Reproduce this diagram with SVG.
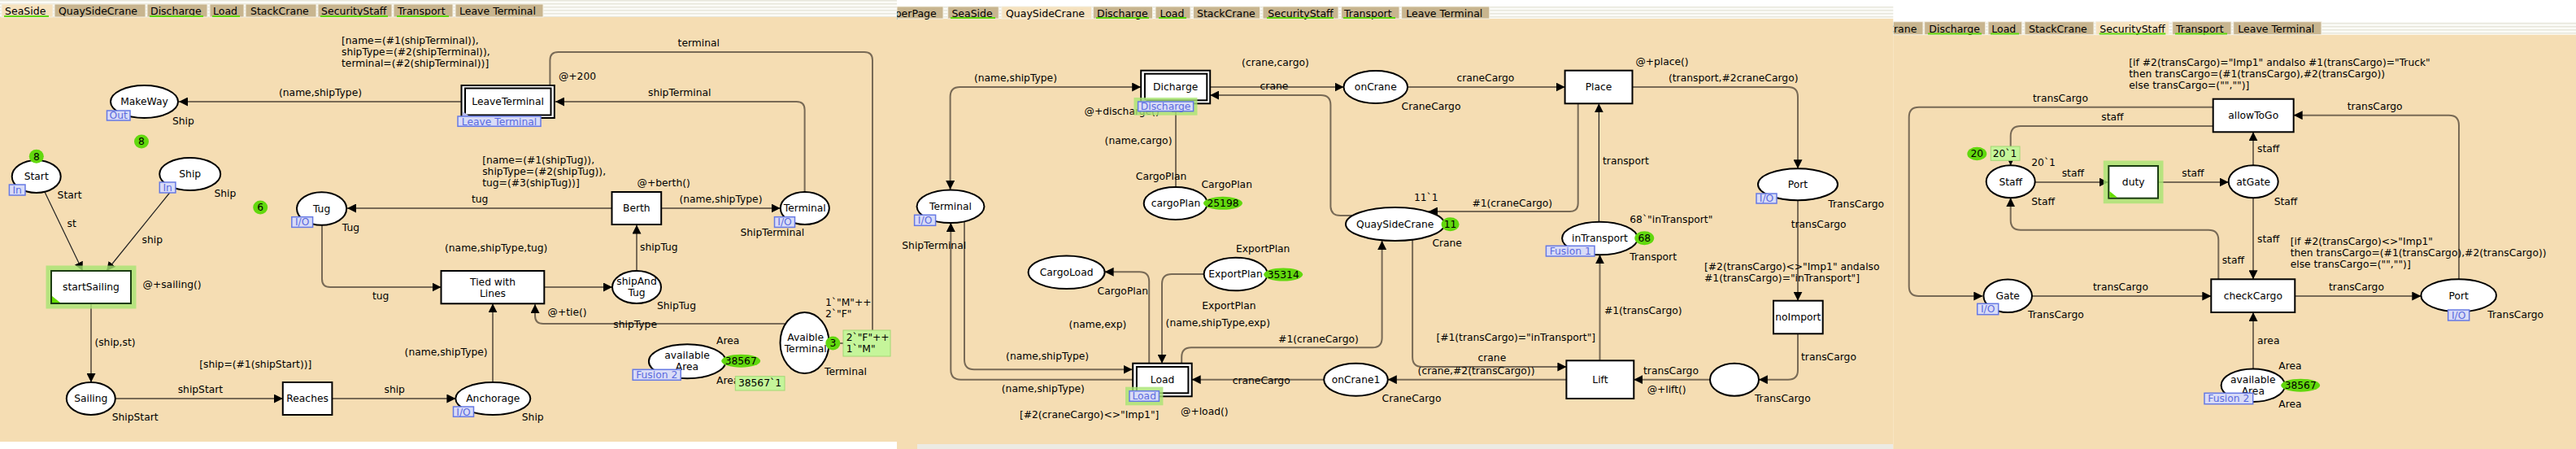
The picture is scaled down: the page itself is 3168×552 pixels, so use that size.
<svg xmlns="http://www.w3.org/2000/svg" width="3168" height="552" viewBox="0 0 3168 552">
<defs>
<style>
text{font-family:"DejaVu Sans",Verdana,sans-serif;font-size:12.3px;fill:#000}
.c{text-anchor:middle}
.tb{font-size:12.5px}
.cv{fill:#f5ddb3}
.tab{fill:#c8b58f;stroke:#f4f1e6;stroke-width:1}
.tabA{fill:#f6e2bf;stroke:#f4f1e6;stroke-width:1}
.ul{stroke:#5ed60a;stroke-width:2}
.pl{fill:#fff;stroke:#000;stroke-width:2}
.tr{fill:#fff;stroke:#000;stroke-width:2}
.arc{fill:none;stroke:#786a56;stroke-width:2}
.thin{fill:none;stroke:#222;stroke-width:1.2}
.ah{marker-end:url(#ah)}
.bi{marker-start:url(#as);marker-end:url(#ah)}
.tag{fill:#d9dcf7;stroke:#6679e4;stroke-width:1.5}
.tagt{fill:#5b6be0;text-anchor:middle}
.tok{fill:#62d80e}
.mk{fill:#c5f59a;stroke:#a2d874;stroke-width:1}
.glow{fill:none;stroke:#a8e572;stroke-width:7;stroke-opacity:.8}
.sub{fill:#b9bbea}
.en{fill:#fff;stroke:#1b3d12;stroke-width:2}
</style>
<marker id="ah" viewBox="0 0 11 11" refX="11" refY="5.5" markerWidth="11" markerHeight="11" markerUnits="userSpaceOnUse" orient="auto"><path d="M0,0L11,5.5L0,11z" fill="#000"/></marker>
<marker id="as" viewBox="0 0 11 11" refX="11" refY="5.5" markerWidth="11" markerHeight="11" markerUnits="userSpaceOnUse" orient="auto-start-reverse"><path d="M0,0L11,5.5L0,11z" fill="#000"/></marker>
<pattern id="str" width="4" height="4" patternUnits="userSpaceOnUse"><rect width="4" height="4" fill="#fbfbf7"/><rect width="4" height="1.5" fill="#e8e7dc"/></pattern>
<clipPath id="cp2"><rect x="1103" y="0" width="1225" height="552"/></clipPath>
<clipPath id="cp3"><rect x="2328.3" y="0" width="840" height="552"/></clipPath>
</defs>
<rect width="3168" height="552" fill="#fff"/>
<g id="panels">
<rect x="0" y="0" width="1103" height="21" fill="url(#str)"/>
<rect class="cv" x="0" y="21" width="1103" height="522"/>
<rect x="1103" y="8" width="1225.3" height="15" fill="url(#str)"/>
<rect class="cv" x="1103" y="23" width="1225.3" height="523"/>
<rect x="1128" y="546" width="1200.3" height="6" fill="#ecebe3"/>
<rect class="cv" x="1103" y="546" width="25" height="6"/>
<rect x="2328.3" y="26.7" width="839.7" height="16" fill="url(#str)"/>
<rect class="cv" x="2328.3" y="42.7" width="839.7" height="509.3"/>
</g>
<g id="tabs">
<rect class="tabA" x="2" y="5" width="63" height="16"/><text class="tb" x="6" y="17.7">SeaSide</text><line class="ul" x1="5" y1="20" x2="60" y2="20"/>
<rect class="tab" x="67" y="5" width="112" height="16"/><text class="tb" x="72" y="17.7">QuaySideCrane</text>
<rect class="tab" x="181" y="5" width="74" height="16"/><text class="tb" x="185" y="17.7">Discharge</text><line class="ul" x1="184" y1="20" x2="250" y2="20"/>
<rect class="tab" x="258" y="5" width="42" height="16"/><text class="tb" x="262" y="17.7">Load</text><line class="ul" x1="261" y1="20" x2="295" y2="20"/>
<rect class="tab" x="302" y="5" width="87" height="16"/><text class="tb" x="308" y="17.7">StackCrane</text>
<rect class="tab" x="391" y="5" width="91" height="16"/><text class="tb" x="395" y="17.7">SecurityStaff</text><line class="ul" x1="394" y1="20" x2="477" y2="20"/>
<rect class="tab" x="484" y="5" width="73" height="16"/><text class="tb" x="489" y="17.7">Transport</text><line class="ul" x1="488" y1="20" x2="552" y2="20"/>
<rect class="tab" x="560" y="5" width="108" height="16"/><text class="tb" x="565" y="17.7">Leave Terminal</text>
<g clip-path="url(#cp2)"><rect class="tab" x="1103" y="8" width="57" height="15"/><text class="tb" x="1084.8" y="20.5">SuperPage</text></g>
<rect class="tab" x="1165.7" y="8" width="62.5" height="15"/><text class="tb" x="1170.4" y="20.5">SeaSide</text><line class="ul" x1="1169" y1="22" x2="1224" y2="22"/>
<rect class="tabA" x="1231.8" y="8" width="110.7" height="15"/><text class="tb" x="1237" y="20.5">QuaySideCrane</text>
<rect class="tab" x="1344.3" y="8" width="73.2" height="15"/><text class="tb" x="1349" y="20.5">Discharge</text><line class="ul" x1="1348" y1="22" x2="1413" y2="22"/>
<rect class="tab" x="1421" y="8" width="43" height="15"/><text class="tb" x="1426.4" y="20.5">Load</text><line class="ul" x1="1425" y1="22" x2="1459" y2="22"/>
<rect class="tab" x="1467.5" y="8" width="82.1" height="15"/><text class="tb" x="1472" y="20.5">StackCrane</text>
<rect class="tab" x="1553" y="8" width="93" height="15"/><text class="tb" x="1559.3" y="20.5">SecurityStaff</text><line class="ul" x1="1558" y1="22" x2="1640" y2="22"/>
<rect class="tab" x="1649.6" y="8" width="71.4" height="15"/><text class="tb" x="1653" y="20.5">Transport</text><line class="ul" x1="1652" y1="22" x2="1716" y2="22"/>
<rect class="tab" x="1723.6" y="8" width="108.2" height="15"/><text class="tb" x="1729.3" y="20.5">Leave Terminal</text>
<g clip-path="url(#cp3)"><rect class="tab" x="2328.3" y="26.7" width="36.7" height="16"/><text class="tb" x="2260.4" y="39.5">QuaySideCrane</text></g>
<rect class="tab" x="2366.7" y="26.7" width="75" height="16"/><text class="tb" x="2372.3" y="39.5">Discharge</text><line class="ul" x1="2371" y1="41.5" x2="2437" y2="41.5"/>
<rect class="tab" x="2445" y="26.7" width="41.7" height="16"/><text class="tb" x="2449.3" y="39.5">Load</text><line class="ul" x1="2448" y1="41.5" x2="2483" y2="41.5"/>
<rect class="tab" x="2490" y="26.7" width="85" height="16"/><text class="tb" x="2495" y="39.5">StackCrane</text>
<rect class="tabA" x="2577.3" y="26.7" width="90" height="16"/><text class="tb" x="2582.3" y="39.5">SecurityStaff</text><line class="ul" x1="2581.7" y1="41.5" x2="2663.3" y2="41.5"/>
<rect class="tab" x="2671.7" y="26.7" width="72.3" height="16"/><text class="tb" x="2676" y="39.5">Transport</text><line class="ul" x1="2675" y1="41.5" x2="2739" y2="41.5"/>
<rect class="tab" x="2746.7" y="26.7" width="108.3" height="16"/><text class="tb" x="2752.3" y="39.5">Leave Terminal</text>
</g>
<g id="connectors">
<path class="arc ah" d="M567.5,125H220"/>
<path class="arc ah" d="M676.4,105V74Q676.4,64 686.4,64H1063Q1073,64 1073,74V412Q1073,422 1063,422H1019.5"/>
<path class="arc ah" d="M989.6,236V135Q989.6,125 979.6,125H683"/>
<path class="arc ah" d="M813.2,256H959.6"/>
<path class="arc ah" d="M752.5,256H427"/>
<path class="arc ah" d="M783,333V276.5"/>
<path class="arc ah" d="M669.3,353H753"/>
<path class="arc ah" d="M396,276.5V343Q396,353 406,353H542.5"/>
<path class="arc ah" d="M606,470V373.3"/>
<path class="arc ah" d="M966,398H668Q658,398 658,388V374"/>
<path class="arc ah" d="M408.4,490H560.4"/>
<path class="arc ah" d="M141.8,490H347.8"/>
<path class="arc ah" d="M112,373V470"/>
<path class="thin ah" d="M55,236L101.6,333"/>
<path class="thin ah" d="M213.5,231L131,333"/>
<path class="arc bi" d="M1168.6,233V119Q1168.6,107 1180.6,107H1403.2"/>
<path class="arc ah" d="M1488.2,107H1652.5"/>
<path class="arc ah" d="M1664,265H1648.4Q1636.4,265 1636.4,253V129Q1636.4,117 1624.4,117H1488.2"/>
<path class="arc ah" d="M1731,107H1924.6"/>
<path class="arc ah" d="M2007.5,107H2199Q2211,107 2211,119V207.3"/>
<path class="arc ah" d="M2211,246V369.7"/>
<path class="arc ah" d="M2211,410.3V455Q2211,466.7 2199,466.7H2162.9"/>
<path class="arc ah" d="M2103.2,466.7H2009.3"/>
<path class="arc ah" d="M1926.4,466.7H1706.8"/>
<path class="arc ah" d="M1737.1,295V439Q1737.1,451 1749.1,451H1926.4"/>
<path class="arc ah" d="M1967.5,443.3V313.3"/>
<path class="thin ah" d="M1966.4,272.7V127.3"/>
<path class="arc ah" d="M1940.7,127.3V250Q1940.7,260 1930.7,260H1757"/>
<path class="arc ah" d="M1453.2,446.7V439Q1453.2,427.3 1465,427.3H1688Q1699.6,427.3 1699.6,415.5V296"/>
<path class="arc ah" d="M1628.2,466.7H1465.7"/>
<path class="arc ah" d="M1480.7,337H1441Q1429,337 1429,349V446.7"/>
<path class="arc ah" d="M1413.2,446.7V346Q1413.2,334.3 1401.5,334.3H1358.6"/>
<path class="arc ah" d="M1186,272V442Q1186,454.3 1198,454.3H1392.5"/>
<path class="arc ah" d="M1393.2,466.7H1181.5Q1169.3,466.7 1169.3,454.5V274"/>
<path class="arc ah" d="M1446,230V127.3"/>
<path class="arc ah" d="M2721.7,131.7H2360Q2347.7,131.7 2347.7,144V352Q2347.7,364 2359.7,364H2438.3"/>
<path class="arc ah" d="M2721.7,155H2485Q2472.7,155 2472.7,167.3V203.3"/>
<path class="arc ah" d="M2502.7,224H2592.7"/>
<path class="arc ah" d="M2654,224H2740.7"/>
<path class="arc ah" d="M2771,203.3V162.3"/>
<path class="arc ah" d="M2771,243.3V343.3"/>
<path class="arc ah" d="M2728.3,343.3V295Q2728.3,282.7 2716,282.7H2485Q2472.7,282.7 2472.7,270.4V243.3"/>
<path class="arc ah" d="M2499,364H2719.3"/>
<path class="arc ah" d="M2822.3,364H2977.3"/>
<path class="arc ah" d="M3024,343.3V154Q3024,141.7 3011.7,141.7H2820.7"/>
<path class="arc ah" d="M2771,453.3V384"/>
<path class="arc" d="M1033,422H1037"/>
</g>
<g id="inscriptions">
<text x="420" y="53.7">[name=(#1(shipTerminal)),</text>
<text x="420" y="67.7">shipType=(#2(shipTerminal)),</text>
<text x="420" y="81.7">terminal=(#2(shipTerminal))]</text>
<text x="343" y="117.7">(name,shipType)</text>
<text x="687" y="97.7">@+200</text>
<text x="833.6" y="57">terminal</text>
<text x="797" y="117.7">shipTerminal</text>
<text x="593.2" y="201">[name=(#1(shipTug)),</text>
<text x="593.2" y="215">shipType=(#2(shipTug)),</text>
<text x="593.2" y="228.7">tug=(#3(shipTug))]</text>
<text x="783.6" y="228.7">@+berth()</text>
<text x="580" y="248.7">tug</text>
<text x="835.4" y="248.7">(name,shipType)</text>
<text x="82.6" y="279.4">st</text>
<text x="174.6" y="298.7">ship</text>
<text x="175.6" y="354.4">@+sailing()</text>
<text x="116.4" y="425">(ship,st)</text>
<text x="245.2" y="452">[ship=(#1(shipStart))]</text>
<text x="218.7" y="482.7">shipStart</text>
<text x="472.5" y="482.7">ship</text>
<text x="458" y="368.4">tug</text>
<text x="497.6" y="437">(name,shipType)</text>
<text x="547" y="308.7">(name,shipType,tug)</text>
<text x="787" y="307.7">shipTug</text>
<text x="673.6" y="388.4">@+tie()</text>
<text x="754.3" y="402.7">shipType</text>
<text x="1527.1" y="81">(crane,cargo)</text>
<text x="1197.9" y="100">(name,shipType)</text>
<text x="1549.6" y="110">crane</text>
<text x="1333.6" y="141">@+discharge()</text>
<text x="1358.6" y="177">(name,cargo)</text>
<text x="1314.6" y="402.7">(name,exp)</text>
<text x="1433.6" y="401">(name,shipType,exp)</text>
<text x="1572.1" y="421">#1(craneCargo)</text>
<text x="1237.1" y="441.7">(name,shipType)</text>
<text x="1515.7" y="472">craneCargo</text>
<text x="1231.8" y="482">(name,shipType)</text>
<text x="1452.1" y="510">@+load()</text>
<text x="1253.9" y="514.4">[#2(craneCargo)&lt;&gt;"Imp1"]</text>
<text x="1791.4" y="100">craneCargo</text>
<text x="2011.4" y="80">@+place()</text>
<text x="2052" y="100">(transport,#2craneCargo)</text>
<text x="1971" y="202">transport</text>
<text x="1810.4" y="253.7">#1(craneCargo)</text>
<text x="2202.7" y="280">transCargo</text>
<text x="2096" y="332">[#2(transCargo)&lt;&gt;"Imp1" andalso</text>
<text x="2096" y="346">#1(transCargo)="inTransport"]</text>
<text x="1972.9" y="386">#1(transCargo)</text>
<text x="1766.4" y="419.4">[#1(transCargo)="inTransport"]</text>
<text x="2215" y="442.7">transCargo</text>
<text x="1817.5" y="444.4">crane</text>
<text x="1743.6" y="460">(crane,#2(transCargo))</text>
<text x="2021" y="460">transCargo</text>
<text x="2025.7" y="483">@+lift()</text>
<text x="2618.3" y="81">[if #2(transCargo)="Imp1" andalso #1(transCargo)="Truck"</text>
<text x="2618.3" y="95">then transCargo=(#1(transCargo),#2(transCargo))</text>
<text x="2618.3" y="109">else transCargo=("","")]</text>
<text x="2500" y="125">transCargo</text>
<text x="2886.7" y="135">transCargo</text>
<text x="2584.3" y="147.7">staff</text>
<text x="2776" y="186.7">staff</text>
<text x="2535.7" y="216.7">staff</text>
<text x="2683.3" y="216.7">staff</text>
<text x="2776" y="297.7">staff</text>
<text x="2816.7" y="301">[if #2(transCargo)&lt;&gt;"Imp1"</text>
<text x="2816.7" y="315">then transCargo=(#1(transCargo),#2(transCargo))</text>
<text x="2816.7" y="329">else transCargo=("","")]</text>
<text x="2732.7" y="323.7">staff</text>
<text x="2574" y="357">transCargo</text>
<text x="2864" y="357">transCargo</text>
<text x="2776" y="422.7">area</text>
</g>
<g id="MakeWay"><ellipse class="pl" cx="177.5" cy="125" rx="41.5" ry="20"/><text class="c" x="177.5" y="129.4">MakeWay</text><rect class="tag" x="131.5" y="136" width="28.5" height="12"/><text class="tagt" x="145.7" y="146.3">Out</text><text x="212" y="152.7">Ship</text><ellipse class="tok" cx="174" cy="174" rx="9" ry="8.5"/><text class="c" x="174" y="178.4">8</text></g>
<g id="Start"><ellipse class="pl" cx="44.7" cy="217" rx="30" ry="20"/><text class="c" x="44.7" y="221.4">Start</text><rect class="tag" x="11.4" y="227" width="19.6" height="13"/><text class="tagt" x="21.2" y="237.8">In</text><text x="70.6" y="244.4">Start</text><ellipse class="tok" cx="44.8" cy="192.3" rx="9" ry="8.5"/><text class="c" x="44.8" y="196.7">8</text></g>
<g id="Ship"><ellipse class="pl" cx="233.7" cy="214" rx="37.5" ry="20"/><text class="c" x="233.7" y="218.4">Ship</text><rect class="tag" x="196.3" y="224" width="19.6" height="13"/><text class="tagt" x="206.1" y="234.8">In</text><text x="263.4" y="241.7">Ship</text></g>
<g id="token6"><ellipse class="tok" cx="320.2" cy="255" rx="9" ry="8.5"/><text class="c" x="320.2" y="259.4">6</text></g>
<g id="Tug"><ellipse class="pl" cx="395.6" cy="256.5" rx="30.6" ry="20.3"/><text class="c" x="395.6" y="260.9">Tug</text><rect class="tag" x="358.8" y="266.7" width="25.8" height="12.7"/><text class="tagt" x="371.7" y="277.4">I/O</text><text x="420.8" y="284.4">Tug</text></g>
<g id="startSailing"><rect class="glow" x="60" y="330" width="104" height="46"/><rect class="en" x="63" y="333" width="98" height="40"/><path d="M64,364L64,372L74,372z" fill="#66dd00"/><text class="c" x="112" y="357.4">startSailing</text></g>
<g id="Sailing"><ellipse class="pl" cx="111.8" cy="490" rx="30" ry="20"/><text class="c" x="111.8" y="494.4">Sailing</text><text x="137.7" y="516.7">ShipStart</text></g>
<g id="Reaches"><rect class="tr" x="347.8" y="470" width="60.6" height="40"/><text class="c" x="378.1" y="494.4">Reaches</text></g>
<g id="Anchorage"><ellipse class="pl" cx="606.3" cy="490" rx="46" ry="20"/><text class="c" x="606.3" y="494.4">Anchorage</text><rect class="tag" x="557.5" y="500" width="25" height="12.3"/><text class="tagt" x="570" y="510.5">I/O</text><text x="641.8" y="517">Ship</text></g>
<g id="TiedWithLines"><rect class="tr" x="542.5" y="333" width="126.8" height="40.3"/><text class="c" x="606" y="350.7">Tied with</text><text class="c" x="606" y="364.7">Lines</text></g>
<g id="shipAndTug"><ellipse class="pl" cx="783" cy="353" rx="30" ry="20"/><text class="c" x="783" y="350.4">shipAnd</text><text class="c" x="783" y="364.4">Tug</text><text x="807.9" y="380.4">ShipTug</text></g>
<g id="Berth"><rect class="tr" x="752.5" y="236" width="60.7" height="40"/><text class="c" x="782.8" y="260.4">Berth</text></g>
<g id="Terminal1"><ellipse class="pl" cx="989.8" cy="256" rx="30" ry="20"/><text class="c" x="989.8" y="260.4">Terminal</text><rect class="tag" x="952.5" y="266.7" width="25" height="12.7"/><text class="tagt" x="965" y="277.4">I/O</text><text x="910.4" y="290.4">ShipTerminal</text></g>
<g id="LeaveTerminal"><rect class="tr" x="567.5" y="105" width="114.3" height="40"/><rect class="tr" x="572" y="108.5" width="105.5" height="33"/><text class="c" x="624.6" y="129.4">LeaveTerminal</text><path class="sub" d="M569,137L569,144L579,144z"/><rect class="tag" x="563" y="143" width="102" height="12.3"/><text class="tagt" x="614" y="153.5">Leave Terminal</text></g>
<g id="AvaibleTerminal"><ellipse class="pl" cx="989.5" cy="421.5" rx="30" ry="37.5"/><text class="c" x="990.7" y="418.7">Avaible</text><text class="c" x="990.7" y="432.7">Terminal</text><text x="1015" y="376">1`"M"++</text><text x="1015" y="390">2`"F"</text><text x="1014" y="461">Terminal</text><ellipse class="tok" cx="1024.3" cy="422" rx="9" ry="8.5"/><text class="c" x="1024.3" y="426.4">3</text><rect class="mk" x="1037" y="406" width="58" height="32"/><text x="1040.7" y="418.7">2`"F"++</text><text x="1040.7" y="432.7">1`"M"</text></g>
<g id="availableArea1"><ellipse class="pl" cx="845.2" cy="444.2" rx="47.3" ry="21"/><text class="c" x="845" y="441">available</text><text class="c" x="845" y="455">Area</text><rect class="tag" x="778.2" y="454.3" width="59" height="13"/><text class="tagt" x="807.7" y="465.1">Fusion 2</text><text x="881" y="422.7">Area</text><text x="881" y="472">Area</text><ellipse class="tok" cx="911.2" cy="443.7" rx="24" ry="8"/><text class="c" x="911.2" y="448.1">38567</text><rect class="mk" x="904.3" y="462.7" width="60.7" height="17.3"/><text x="907.9" y="475.4">38567`1</text></g>
<g id="Terminal2"><ellipse class="pl" cx="1169" cy="253.7" rx="41.4" ry="20.3"/><text class="c" x="1169" y="258">Terminal</text><rect class="tag" x="1124.6" y="264.3" width="26" height="13"/><text class="tagt" x="1137.6" y="275.1">I/O</text><text x="1109.3" y="306">ShipTerminal</text></g>
<g id="Dicharge"><rect class="tr" x="1403.2" y="86.7" width="85" height="40.6"/><rect class="tr" x="1407.9" y="90.7" width="76.4" height="32.6"/><text class="c" x="1445.7" y="111.4">Dicharge</text><path class="sub" d="M1405,120L1405,126.7L1414,126.7z"/><rect class="glow" x="1398" y="123.5" width="71" height="14.7" stroke-width="5"/><rect class="tag" x="1399.6" y="125" width="68" height="11.7"/><text class="tagt" x="1433.6" y="135.2">Discharge</text></g>
<g id="cargoPlan"><text x="1396.8" y="221">CargoPlan</text><ellipse class="pl" cx="1445.7" cy="250" rx="39" ry="20"/><text class="c" x="1446" y="254">cargoPlan</text><text x="1477.5" y="231">CargoPlan</text><ellipse class="tok" cx="1504" cy="249.8" rx="24" ry="8"/><text class="c" x="1504" y="254.2">25198</text></g>
<g id="CargoLoad"><ellipse class="pl" cx="1311.6" cy="334.7" rx="47" ry="20.3"/><text class="c" x="1311.6" y="339">CargoLoad</text><text x="1349.6" y="362">CargoPlan</text></g>
<g id="ExportPlan"><text x="1520" y="310">ExportPlan</text><ellipse class="pl" cx="1519.6" cy="337" rx="39" ry="20.3"/><text class="c" x="1519.5" y="341">ExportPlan</text><ellipse class="tok" cx="1578.2" cy="337.5" rx="24" ry="8"/><text class="c" x="1578.2" y="341.9">35314</text><text x="1478.2" y="380">ExportPlan</text></g>
<g id="Load"><rect class="tr" x="1393.2" y="446.7" width="72.5" height="40.6"/><rect class="tr" x="1397.9" y="451" width="63.5" height="32.3"/><text class="c" x="1429.5" y="471.4">Load</text><path class="sub" d="M1394.3,479.3L1394.3,486L1403.2,486z"/><rect class="glow" x="1387.5" y="479.2" width="39.4" height="15.6" stroke-width="5"/><rect class="tag" x="1389" y="480.7" width="36.4" height="12.6"/><text class="tagt" x="1407.2" y="491.3">Load</text></g>
<g id="onCrane"><ellipse class="pl" cx="1691.8" cy="107" rx="39.3" ry="20"/><text class="c" x="1691.8" y="111.4">onCrane</text><text x="1723.6" y="135">CraneCargo</text></g>
<g id="Place"><rect class="tr" x="1924.6" y="86.7" width="82.9" height="40.6"/><text class="c" x="1966" y="111.4">Place</text></g>
<g id="QuaySideCrane"><text x="1738.9" y="247">11`1</text><ellipse class="pl" cx="1715.7" cy="275.5" rx="60.7" ry="20.5"/><text class="c" x="1715.7" y="280">QuaySideCrane</text><ellipse class="tok" cx="1783.6" cy="275.7" rx="11" ry="8.5"/><text class="c" x="1783.6" y="280.1">11</text><text x="1761.4" y="302.7">Crane</text></g>
<g id="inTransport"><text x="2004.3" y="273.7">68`"inTransport"</text><ellipse class="pl" cx="1967.5" cy="293" rx="46.4" ry="20.3"/><text class="c" x="1967.5" y="297">inTransport</text><ellipse class="tok" cx="2022.3" cy="292.7" rx="12" ry="8.5"/><text class="c" x="2022.3" y="297.1">68</text><rect class="tag" x="1901.4" y="302.3" width="59.6" height="12.7"/><text class="tagt" x="1931.2" y="313">Fusion 1</text><text x="2004.3" y="320">Transport</text></g>
<g id="Port1"><ellipse class="pl" cx="2211" cy="226.7" rx="49" ry="19.5"/><text class="c" x="2211" y="231">Port</text><rect class="tag" x="2160" y="238" width="25" height="12"/><text class="tagt" x="2172.5" y="248.4">I/O</text><text x="2248.3" y="255">TransCargo</text></g>
<g id="noImport"><rect class="tr" x="2181" y="369.7" width="60.7" height="40.6"/><text class="c" x="2211.3" y="394.4">noImport</text></g>
<g id="unnamedPlace"><ellipse class="pl" cx="2133" cy="466.7" rx="30" ry="20"/><text x="2157.9" y="494.4">TransCargo</text></g>
<g id="Lift"><rect class="tr" x="1926.4" y="443.3" width="82.9" height="46.7"/><text class="c" x="1967.9" y="471">Lift</text></g>
<g id="onCrane1"><ellipse class="pl" cx="1667.5" cy="466.7" rx="39.3" ry="20"/><text class="c" x="1667.5" y="471">onCrane1</text><text x="1699.6" y="494.4">CraneCargo</text></g>
<g id="allowToGo"><rect class="tr" x="2721.7" y="121.7" width="99" height="40.6"/><text class="c" x="2771.2" y="146.4">allowToGo</text></g>
<g id="Staff"><ellipse class="pl" cx="2472.7" cy="223.3" rx="30" ry="20"/><text class="c" x="2472.7" y="227.7">Staff</text><ellipse class="tok" cx="2431.3" cy="189" rx="12" ry="8.3"/><text class="c" x="2431.3" y="193.4">20</text><rect class="mk" x="2448.3" y="180" width="35.7" height="17.3"/><text x="2450.7" y="193.4">20`1</text><text x="2498.3" y="204.4">20`1</text><text x="2498.3" y="251.7">Staff</text></g>
<g id="duty"><rect class="glow" x="2590.3" y="201" width="66.7" height="45.7"/><rect class="en" x="2593.3" y="204" width="60.7" height="39.7"/><path d="M2594.3,235L2594.3,242.7L2604,242.7z" fill="#66dd00"/><text class="c" x="2623.7" y="228.4">duty</text></g>
<g id="atGate"><ellipse class="pl" cx="2771.2" cy="223.3" rx="30.5" ry="20"/><text class="c" x="2771.2" y="227.7">atGate</text><text x="2796.7" y="251.7">Staff</text></g>
<g id="Gate"><ellipse class="pl" cx="2469.2" cy="363.7" rx="29.8" ry="20.3"/><text class="c" x="2469.2" y="368">Gate</text><rect class="tag" x="2431.7" y="373.3" width="26" height="13.4"/><text class="tagt" x="2444.7" y="384.3">I/O</text><text x="2494" y="391">TransCargo</text></g>
<g id="checkCargo"><rect class="tr" x="2719.3" y="343.3" width="103" height="40.7"/><text class="c" x="2770.8" y="368">checkCargo</text></g>
<g id="Port2"><ellipse class="pl" cx="3023.7" cy="363.3" rx="46.3" ry="20"/><text class="c" x="3023.7" y="367.7">Port</text><rect class="tag" x="3010.7" y="381" width="26" height="13"/><text class="tagt" x="3023.7" y="391.8">I/O</text><text x="3059.3" y="391">TransCargo</text></g>
<g id="availableArea2"><text x="2802.3" y="454.4">Area</text><ellipse class="pl" cx="2770.8" cy="473.7" rx="39.2" ry="20.3"/><text class="c" x="2770.8" y="471">available</text><text class="c" x="2770.8" y="485">Area</text><rect class="tag" x="2711" y="483.3" width="59.7" height="13.4"/><text class="tagt" x="2740.8" y="494.3">Fusion 2</text><ellipse class="tok" cx="2829.2" cy="473.7" rx="24" ry="8"/><text class="c" x="2829.2" y="478.1">38567</text><text x="2802.3" y="501">Area</text></g>
</svg>
